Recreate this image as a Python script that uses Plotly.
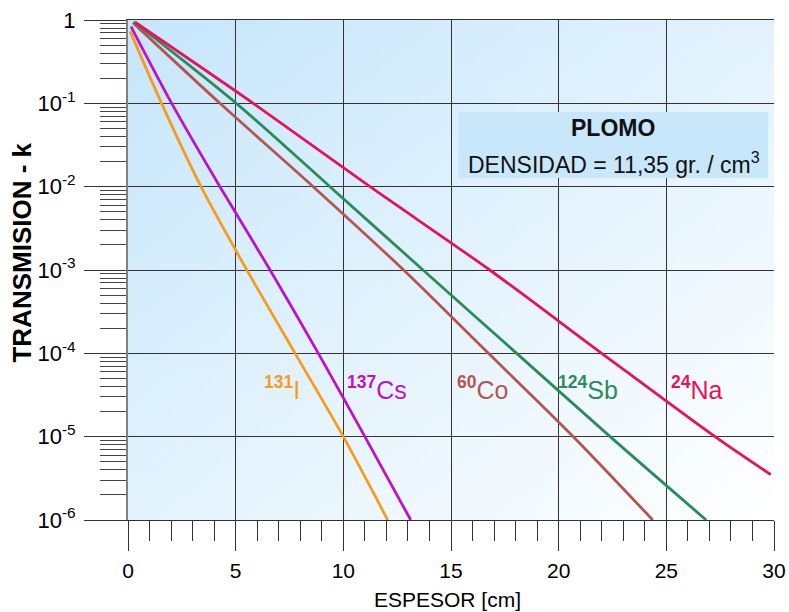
import base64
import struct
import zlib
import plotly.graph_objects as go

# ---------------- data ----------------
x_tickvals = [0, 5, 10, 15, 20, 25, 30]
x_ticktext = ["0", "5", "10", "15", "20", "25", "30"]
y_tickvals = [1e-6, 1e-5, 1e-4, 1e-3, 1e-2, 1e-1, 1]
y_ticktext = ["10<sup>-6</sup>", "10<sup>-5</sup>", "10<sup>-4</sup>", "10<sup>-3</sup>",
              "10<sup>-2</sup>", "10<sup>-1</sup>", "1"]
y_minor = [m * 10.0 ** e for e in range(-6, 0) for m in range(2, 10)]

I131_x = [0.10, 1.56, 3.39, 5.52, 7.76, 10.00, 12.06]
I131_y = [0.73, 1e-1, 1e-2, 1e-3, 1e-4, 1e-5, 1e-6]
Cs137_x = [0.14, 2.03, 4.27, 6.60, 8.84, 11.00, 13.13]
Cs137_y = [0.835, 1e-1, 1e-2, 1e-3, 1e-4, 1e-5, 1e-6]
Co60_x = [0.23, 4.27, 8.60, 12.80, 16.74, 20.68, 24.37]
Co60_y = [0.93, 1e-1, 1e-2, 1e-3, 1e-4, 1e-5, 1e-6]
Sb124_x = [0.28, 5.03, 9.38, 13.70, 18.05, 22.39, 26.85]
Sb124_y = [0.95, 1e-1, 1e-2, 1e-3, 1e-4, 1e-5, 1e-6]
Na24_x = [0.33, 5.82, 11.24, 16.80, 22.00, 27.26, 29.85]
Na24_y = [0.94, 1e-1, 1e-2, 1e-3, 1e-4, 1e-5, 3.5e-6]

series = [
    ("131I", I131_x, I131_y, "#f59c1c", "<b><sup>131</sup></b>I", 6.22),
    ("137Cs", Cs137_x, Cs137_y, "#bf12c6", "<b><sup>137</sup></b>Cs", 10.08),
    ("60Co", Co60_x, Co60_y, "#b8544f", "<b><sup>60</sup></b>Co", 15.19),
    ("124Sb", Sb124_x, Sb124_y, "#2a8c5a", "<b><sup>124</sup></b>Sb", 19.88),
    ("24Na", Na24_x, Na24_y, "#e8115c", "<b><sup>24</sup></b>Na", 25.13),
]


# ---------------- gradient background image ----------------
def gradient_png(w, h, c0, c1):
    raw = bytearray()
    for j in range(h):
        raw.append(0)
        for i in range(w):
            t = (i / (w - 1) + j / (h - 1)) / 2.0
            for k in range(3):
                raw.append(int(round(c0[k] + (c1[k] - c0[k]) * t)))

    def chunk(tag, data):
        return (struct.pack(">I", len(data)) + tag + data
                + struct.pack(">I", zlib.crc32(tag + data) & 0xFFFFFFFF))

    png = (b"\x89PNG\r\n\x1a\n"
           + chunk(b"IHDR", struct.pack(">IIBBBBB", w, h, 8, 2, 0, 0, 0))
           + chunk(b"IDAT", zlib.compress(bytes(raw), 9))
           + chunk(b"IEND", b""))
    return "data:image/png;base64," + base64.b64encode(png).decode()


bg_src = gradient_png(96, 80, (198, 230, 251), (255, 255, 255))

FONT = "Liberation Sans, Arial, sans-serif"
fig = go.Figure()

for name, xs, ys, color, label, lx in series:
    fig.add_trace(go.Scatter(
        x=xs, y=ys, mode="lines", name=name,
        line=dict(color=color, width=2.8, shape="spline", smoothing=0.8),
        hoverinfo="skip",
    ))
    fig.add_annotation(
        x=lx, xref="x", y=0.264, yref="y domain", text=label,
        showarrow=False, xanchor="left", yanchor="middle",
        font=dict(family=FONT, size=25, color=color),
    )

# info box
fig.add_shape(type="rect", xref="x domain", yref="y domain",
              x0=0.511, x1=0.991, y0=0.684, y1=0.816,
              fillcolor="#c9e7fb", line=dict(width=0), layer="above")
fig.add_annotation(x=0.751, xref="x domain", y=0.784, yref="y domain",
                   text="<b>PLOMO</b>", showarrow=False,
                   xanchor="center", yanchor="middle",
                   font=dict(family=FONT, size=23, color="#111"))
fig.add_annotation(x=0.753, xref="x domain", y=0.714, yref="y domain",
                   text="DENSIDAD = 11,35 gr. / cm<sup>3</sup>", showarrow=False,
                   xanchor="center", yanchor="middle",
                   font=dict(family=FONT, size=23, color="#111"))

# axis titles
fig.add_annotation(x=-0.164, xref="paper", y=0.535, yref="paper",
                   text="<b>TRANSMISION - k</b>", textangle=-90, showarrow=False,
                   xanchor="center", yanchor="middle",
                   font=dict(family=FONT, size=26, color="black"))
fig.add_annotation(x=0.494, xref="paper", y=-0.158, yref="paper",
                   text="ESPESOR [cm]", showarrow=False,
                   xanchor="center", yanchor="middle",
                   font=dict(family=FONT, size=21, color="black"))

fig.add_layout_image(dict(source=bg_src, xref="paper", yref="paper",
                          x=0, y=1, sizex=1, sizey=1, sizing="stretch",
                          xanchor="left", yanchor="top", layer="below"))

fig.update_layout(
    width=789, height=612,
    margin=dict(l=128, r=15, t=20, b=92, autoexpand=False),
    paper_bgcolor="white", plot_bgcolor="rgba(0,0,0,0)",
    showlegend=False,
    font=dict(family=FONT, color="black"),
)

fig.update_xaxes(
    range=[0, 30], tickmode="array", tickvals=x_tickvals, ticktext=x_ticktext,
    ticks="outside", ticklen=30, tickwidth=1.3, tickcolor="#333",
    showgrid=True, gridcolor="#333", gridwidth=1.2, zeroline=False,
    showline=True, mirror=True, linecolor="#333", linewidth=1.3,
    tickfont=dict(family=FONT, size=21, color="black"), ticklabelstandoff=2,
    automargin=False, ticklabeloverflow="allow",
    minor=dict(dtick=1, ticks="outside", ticklen=20, tickwidth=1.2,
               tickcolor="#333", showgrid=False),
)
fig.update_yaxes(
    type="log", range=[-6, 0], tickmode="array", tickvals=y_tickvals, ticktext=y_ticktext,
    ticks="outside", ticklen=42, tickwidth=1.3, tickcolor="#333",
    showgrid=True, gridcolor="#333", gridwidth=1.2, zeroline=False,
    showline=True, linecolor="#808080", linewidth=2,
    tickfont=dict(family=FONT, size=22, color="black"), ticklabelstandoff=4,
    automargin=False, ticklabeloverflow="allow",
    minor=dict(tickvals=y_minor, ticks="outside", ticklen=26, tickwidth=1.2,
               tickcolor="#444", showgrid=False),
)

# remove the browser's default 8px page margin so the 789x612 figure fills the window
fig.write_html(
    "out.html",
    config={"displayModeBar": False},
    post_script="document.body.style.margin='0';document.body.style.overflow='hidden';",
)
